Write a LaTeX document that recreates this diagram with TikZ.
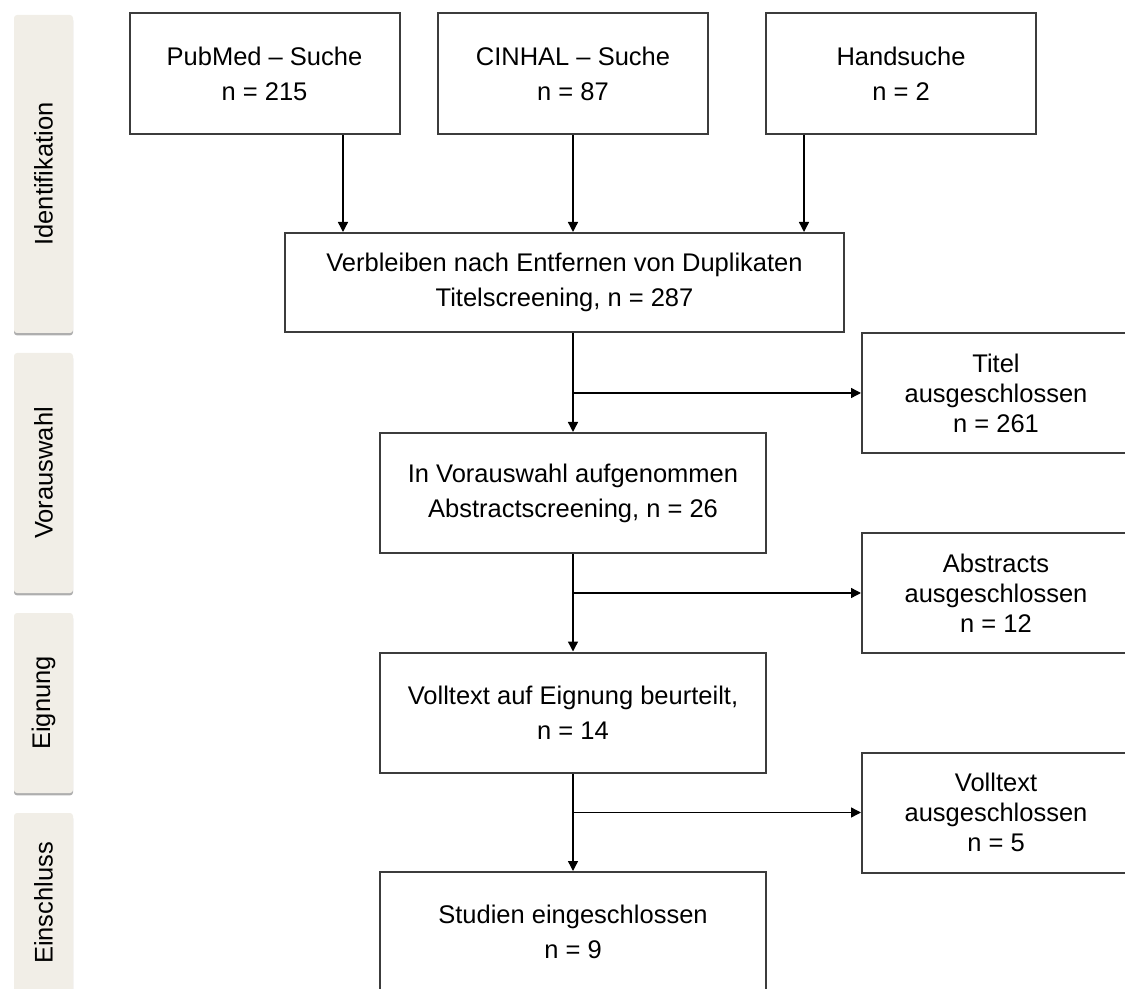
\documentclass[tikz,border=0pt]{standalone}
\usepackage{fontspec}
\setmainfont{Liberation Sans}
\usetikzlibrary{arrows.meta}
\usetikzlibrary{positioning}
\usetikzlibrary{shadows}
\definecolor{phasefill}{HTML}{F1EEE7}
\definecolor{boxline}{HTML}{3C3C3C}
\tikzset{
    box/.style = {draw=boxline,line width=1pt,fill=white,align=center,inner sep=0,font=\fontsize{12.75}{17.5}\selectfont},
    srcbox/.style = {box,minimum width=135pt,minimum height=60.5pt},
    mainbox/.style = {box,minimum width=193pt,minimum height=60pt},
    exclbox/.style = {box,minimum width=134pt,minimum height=60pt,font=\fontsize{12.75}{15}\selectfont},
    phase/.style = {fill=phasefill,rounded corners=1.5pt,minimum width=29.5pt,inner sep=0,font=\fontsize{12.75}{15}\selectfont,
        drop shadow={shadow xshift=0pt,shadow yshift=-1.2pt,fill=black!45,opacity=0.7}}
}
\tikzset{
    flow/.style = {-{Triangle[length=5pt,width=5pt]},line width=0.7pt}
}

\begin{document}
\begin{tikzpicture}[x=0.5pt,y=-0.5pt]
    \newcommand\colx{573}
    \newcommand\exclx{996}
    \useasboundingbox (0,0) rectangle (1125,989);
    \clip (0,0) rectangle (1125,989);
    % Phases
    \path (43.5,174) node[phase,minimum height=159pt] (ident) {\rotatebox{90}{Identifikation}}
        to +(0,299) node[phase,minimum height=120pt] (presel) {\rotatebox{90}{Vorauswahl}}
        to +(0,529) node[phase,minimum height=90pt] (elig) {\rotatebox{90}{Eignung}}
        to +(0,729) node[phase,minimum height=90pt] (inclph) {\rotatebox{90}{Einschluss}}
    ;
    % Sources
    \path (264.5,73.5) node[srcbox] (pub) {PubMed -- Suche\\n = 215}
        to +(308.5,0) node[srcbox] (cin) {CINHAL -- Suche\\n = 87}
        to +(636.5,0) node[srcbox] (hand) {Handsuche\\n = 2}
    ;
    % Screening column
    \path (564.5,282.5) node[mainbox,minimum width=279.5pt,minimum height=49.5pt] (dup)
        {Verbleiben nach Entfernen von Duplikaten\\Titelscreening, n = 287};
    \path (\colx,493) node[mainbox] (pre) {In Vorauswahl aufgenommen\\Abstractscreening, n = 26}
        to +(0,219.5) node[mainbox] (full) {Volltext auf Eignung beurteilt,\\n = 14}
        to +(0,439) node[mainbox] (incl) {Studien eingeschlossen\\n = 9}
    ;
    % Exclusions
    \path (\exclx,393) node[exclbox] (xtitle) {Titel\\ausgeschlossen\\n = 261}
        to +(0,200) node[exclbox] (xabs) {Abstracts\\ausgeschlossen\\n = 12}
        to +(0,419.5) node[exclbox] (xfull) {Volltext\\ausgeschlossen\\n = 5}
    ;
    % Sources to duplicates
    \draw[flow] ([xshift=39.25pt]pub.south) -- ([xshift=39.25pt]pub.south |- dup.north);
    \draw[flow] (cin.south) -- (cin.south |- dup.north);
    \draw[flow] ([xshift=-48.5pt]hand.south) -- ([xshift=-48.5pt]hand.south |- dup.north);
    % Main flow
    \foreach \src/\dest in {dup/pre,pre/full,full/incl}
        \draw[flow] (\src.south -| \dest.north) -- (\dest.north);
    % Branches
    \foreach \src/\dest in {pre/xtitle,full/xabs,incl/xfull}
        \draw[flow] (\src.north |- \dest.west) -- (\dest.west);
\end{tikzpicture}
\end{document}
